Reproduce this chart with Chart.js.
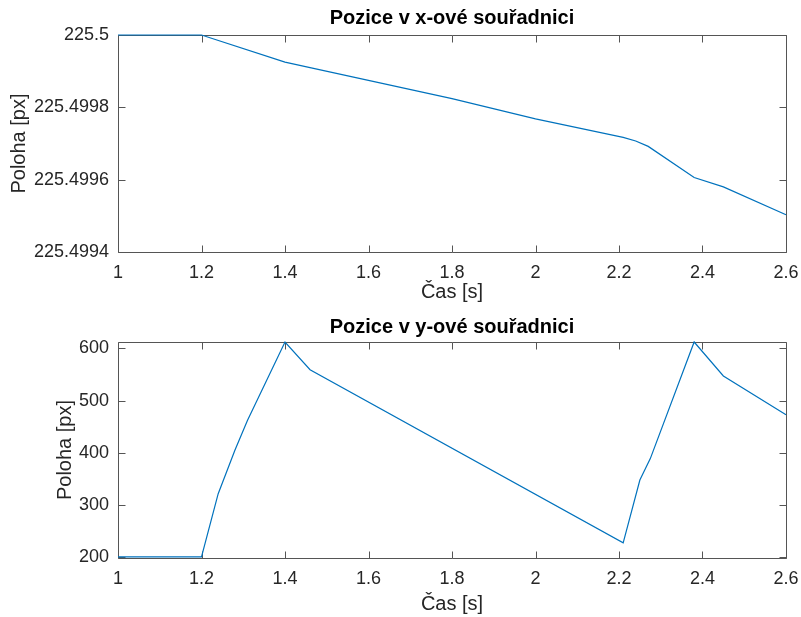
<!DOCTYPE html>
<html>
<head>
<meta charset="utf-8">
<script src="https://cdn.jsdelivr.net/npm/chart.js@4/dist/chart.umd.min.js"></script>
<style>
	body { margin: 0; background: #fff; }
	.plot { position: absolute; left: 0; width: 801px; }
</style>
</head>
<body>
<div class="plot" style="top:0;height:308px"><canvas id="chart-x"></canvas></div>
<div class="plot" style="top:308px;height:309px"><canvas id="chart-y"></canvas></div>
<script>
const timeX = [1, 1.2, 1.4, 1.46, 1.8, 2.0, 2.21, 2.24, 2.27, 2.38, 2.45, 2.6]
const posX = [
	225.5, 225.5, 225.499925, 225.49991, 225.499824, 225.499768,
	225.499717, 225.499707, 225.499692, 225.499606, 225.49958, 225.499503,
]
const timeY = [1, 1.2, 1.24, 1.28, 1.31, 1.4, 1.46, 2.21, 2.25, 2.275, 2.38, 2.45, 2.6]
const posY = [201, 201, 322, 405, 462, 612, 559, 228, 348, 389, 612, 547, 473]

const timeTicks = [1, 1.2, 1.4, 1.6, 1.8, 2, 2.2, 2.4, 2.6]
const timeTickLabels = ['1', '1.2', '1.4', '1.6', '1.8', '2', '2.2', '2.4', '2.6']
const xPosTicks = [225.4994, 225.4996, 225.4998, 225.5]
const xPosTickLabels = ['225.4994', '225.4996', '225.4998', '225.5']
const yPosTicks = [200, 300, 400, 500, 600]
const yPosTickLabels = ['200', '300', '400', '500', '600']

const font = '"Liberation Sans", Arial, Helvetica, sans-serif'
const axisColor = '#262626'

// matlab style box with ticks pointing inside, drawn under the line
const boxPlugin = {
	id: 'matlabBox',
	beforeDatasetsDraw(chart) {
		const { ctx, chartArea: a, scales } = chart
		const len = 7
		const l = Math.round(a.left) + 0.5
		const r = Math.round(a.right) + 0.5
		const t = Math.round(a.top) + 0.5
		const b = Math.round(a.bottom) + 0.5
		ctx.save()
		ctx.strokeStyle = '#555'
		ctx.lineWidth = 1
		ctx.beginPath()
		ctx.rect(l, t, r - l, b - t)
		scales.x.ticks.forEach(tick => {
			const px = Math.round(scales.x.getPixelForValue(tick.value)) + 0.5
			ctx.moveTo(px, b)
			ctx.lineTo(px, b - len)
			ctx.moveTo(px, t)
			ctx.lineTo(px, t + len)
		})
		scales.y.ticks.forEach(tick => {
			const py = Math.round(scales.y.getPixelForValue(tick.value)) + 0.5
			ctx.moveTo(l, py)
			ctx.lineTo(l + len, py)
			ctx.moveTo(r, py)
			ctx.lineTo(r - len, py)
		})
		ctx.stroke()
		ctx.restore()
	},
}

function makeChart(id, times, values, opts) {
	const points = times.map((t, i) => ({ x: t, y: values[i] }))
	new Chart(document.getElementById(id), {
		type: 'line',
		data: {
			datasets: [
				{
					data: points,
					borderColor: '#0072BD',
					borderWidth: 1.2,
					pointRadius: 0,
					tension: 0,
					clip: 2,
				},
			],
		},
		plugins: [boxPlugin],
		options: {
			responsive: true,
			maintainAspectRatio: false,
			animation: false,
			layout: { padding: { left: 0, right: 15, top: 0, bottom: 0 } },
			plugins: {
				legend: { display: false },
				tooltip: { enabled: false },
				title: {
					display: true,
					text: opts.title,
					color: '#000',
					fullSize: false,
					font: { family: font, size: 20, weight: 'bold', lineHeight: 1.2 },
					padding: opts.titlePadding,
				},
			},
			scales: {
				x: {
					type: 'linear',
					min: 1,
					max: 2.6,
					afterBuildTicks: s => { s.ticks = timeTicks.map(v => ({ value: v })) },
					afterFit: s => {
						s.height = opts.xHeight
						s.paddingLeft = 0
						s.paddingRight = 0
					},
					grid: { display: false, drawTicks: false },
					border: { display: false },
					ticks: {
						autoSkip: false,
						maxRotation: 0,
						padding: 10,
						color: axisColor,
						font: { family: font, size: 18 },
						callback: (v, i) => timeTickLabels[i],
					},
					title: {
						display: true,
						text: 'Čas [s]',
						color: axisColor,
						font: { family: font, size: 20, lineHeight: 1.2 },
						padding: { top: 0, bottom: opts.xTitlePad },
					},
				},
				y: {
					min: opts.yMin,
					max: opts.yMax,
					afterBuildTicks: s => { s.ticks = opts.yTicks.map(v => ({ value: v })) },
					afterFit: s => {
						s.width = 118
						s.paddingTop = 0
						s.paddingBottom = 0
					},
					grid: { display: false, drawTicks: false },
					border: { display: false },
					ticks: {
						autoSkip: false,
						padding: 9,
						color: axisColor,
						font: { family: font, size: 18 },
						callback: (v, i) => opts.yLabels[i],
					},
					title: {
						display: true,
						text: 'Poloha [px]',
						color: axisColor,
						font: { family: font, size: 20, lineHeight: 1.2 },
						padding: { top: opts.yTitlePad, bottom: 0 },
					},
				},
			},
		},
	})
}

makeChart('chart-x', timeX, posX, {
	title: 'Pozice v x-ové souřadnici',
	titlePadding: { top: 6, bottom: 5 },
	xHeight: 56,
	xTitlePad: 4,
	yMin: 225.4994,
	yMax: 225.5,
	yTicks: xPosTicks,
	yLabels: xPosTickLabels,
	yTitlePad: 7,
})

makeChart('chart-y', timeY, posY, {
	title: 'Pozice v y-ové souřadnici',
	titlePadding: { top: 7, bottom: 3 },
	xHeight: 59,
	xTitlePad: 1,
	yMin: 199,
	yMax: 612,
	yTicks: yPosTicks,
	yLabels: yPosTickLabels,
	yTitlePad: 53,
})
</script>
</body>
</html>
